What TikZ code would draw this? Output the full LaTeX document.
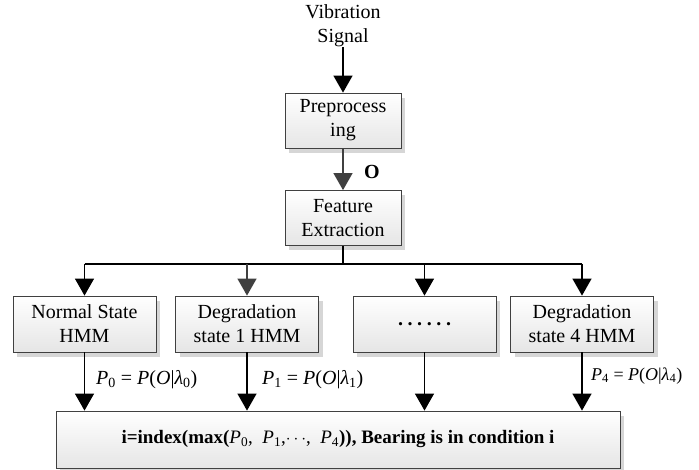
\documentclass[tikz,border=0pt]{standalone}
\usepackage{fontspec}
\setmainfont{Liberation Serif}
\usetikzlibrary{arrows.meta,shadows}
\begin{document}
\begin{tikzpicture}[x=1pt,y=-1pt,
  box/.style={draw=black!75, line width=0.8pt, top color=white, bottom color=black!10,
    drop shadow={shadow xshift=4pt,shadow yshift=-5pt,fill=black!16,opacity=1},
    align=center, inner sep=0pt, font=\fontsize{20}{24}\selectfont},
  rowbox/.style={box, minimum width=143pt, minimum height=56pt},
  midbox/.style={box, minimum width=116pt, minimum height=55pt},
  arr/.style={line width=1.3pt, -{Triangle[width=19pt,length=17pt]}},
  greyarr/.style={arr, draw=black!75, fill=black!75},
  lbl/.style={anchor=west, inner sep=0pt, font=\fontsize{20}{24}\selectfont},
  txt/.style={align=center, inner sep=0pt, font=\fontsize{20}{24}\selectfont}
]
\useasboundingbox (0,0) rectangle (699,470);
\node[txt] (vib) at (343,26) {Vibration\\Signal};
\node[midbox] (pre) at (343,120.5) {Preprocess\\ing};
\node[midbox] (fe) at (343,218) {Feature\\Extraction};
\node[rowbox] (n0) at (84.5,324) {Normal State\\HMM};
\node[rowbox] (n1) at (247,324) {Degradation\\state 1 HMM};
\node[rowbox] (n2) at (424.5,324) {\bfseries .\hspace{4.6pt}.\hspace{4.6pt}.\hspace{4.6pt}.\hspace{4.6pt}.\hspace{4.6pt}.};
\node[rowbox] (n4) at (582,324) {Degradation\\state 4 HMM};
\node[box, minimum width=564pt, minimum height=57pt, font=\fontsize{19}{23}\selectfont] (bot) at (338,439.5)
  {\textbf{i=index(max(}\textit{P}\textsubscript{0},\ \ \textit{P}\textsubscript{1},$\cdots$,\ \ \textit{P}\textsubscript{4}\textbf{)), Bearing is in condition i}};
\coordinate (bus) at (343,264);
\draw[arr] (vib.south) -- (pre.north);
\draw[greyarr] (pre.south) -- (fe.north);
\node[txt, font=\fontsize{20}{24}\selectfont\bfseries] (o) at (372,172) {O};
\draw[line width=1.3pt] (fe.south) -- (bus);
\draw[line width=1.3pt] (n0.north |- bus) -- (n4.north |- bus);
\draw[arr] (n0.north |- bus) -- (n0.north);
\draw[greyarr] (n1.north |- bus) -- (n1.north);
\draw[arr] (n2.north |- bus) -- (n2.north);
\draw[arr] (n4.north |- bus) -- (n4.north);
\draw[arr] (n0.south) -- (n0.south |- bot.north);
\draw[arr] (n1.south) -- (n1.south |- bot.north);
\draw[arr] (n2.south) -- (n2.south |- bot.north);
\draw[arr] (n4.south) -- (n4.south |- bot.north);
\node[lbl] (l0) at (96,380) {\textit{P}\textsubscript{0} = \textit{P}(\textit{O}|\textit{λ}\textsubscript{0})};
\node[lbl] (l1) at (262,380) {\textit{P}\textsubscript{1} = \textit{P}(\textit{O}|\textit{λ}\textsubscript{1})};
\node[lbl, font=\fontsize{18}{22}\selectfont] (l4) at (591,376) {\textit{P}\textsubscript{4} = \textit{P}(\textit{O}|\textit{λ}\textsubscript{4})};
\end{tikzpicture}
\end{document}
